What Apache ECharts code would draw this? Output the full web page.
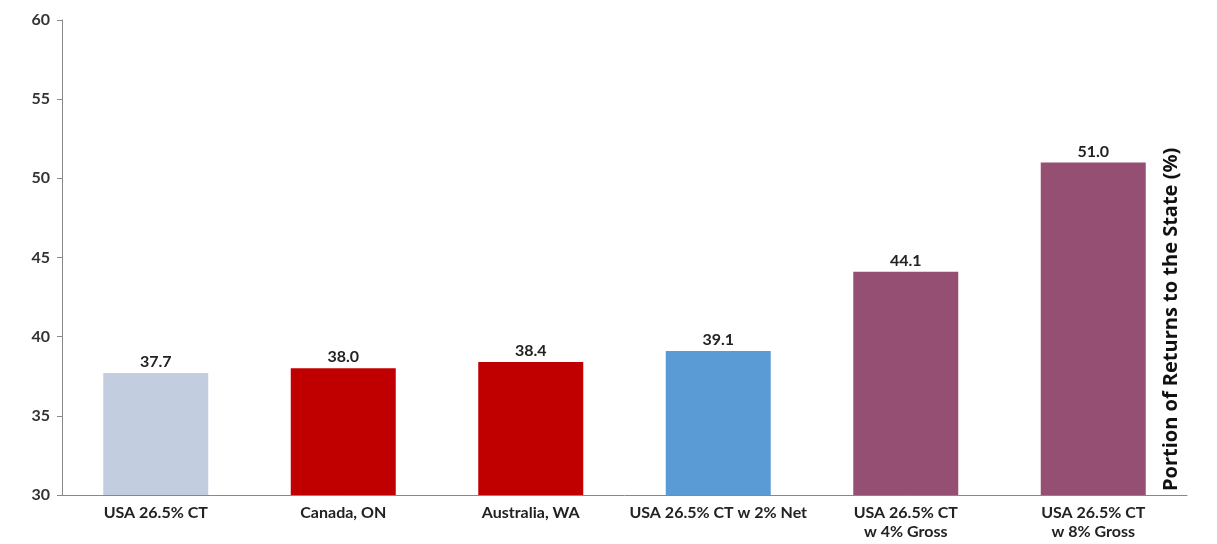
<!DOCTYPE html>
<html><head><meta charset="utf-8">
<script src="https://cdn.jsdelivr.net/npm/echarts@6/dist/echarts.min.js"></script>
<style>html,body{margin:0;padding:0;background:#fff}#c{width:1217px;height:544px}</style>
</head><body><div id="c"></div>
<script>
const categories = ['USA 26.5% CT', 'Canada, ON', 'Australia, WA', 'USA 26.5% CT w 2% Net', 'USA 26.5% CT\nw 4% Gross', 'USA 26.5% CT\nw 8% Gross'];
const values = [37.7, 38.0, 38.4, 39.1, 44.1, 51.0];
const barColors = ['#C2CEE0', '#C00000', '#C00000', '#5B9BD5', '#954F72', '#954F72'];
const yTitle = 'Portion of Returns to the State (%)';

const chart = echarts.init(document.getElementById('c'));
const FONT = 'Lato, "Open Sans", sans-serif';
chart.setOption({
  animation: false,
  grid: {left: 62, right: 30, top: 20, bottom: 49},
  xAxis: {
    type: 'category', data: categories,
    axisLine: {lineStyle: {color: '#888', width: 1}},
    axisTick: {show: false},
    axisLabel: {color: '#222', fontWeight: 'bold', fontSize: 16, fontFamily: FONT, margin: 8, lineHeight: 19, interval: 0}
  },
  yAxis: {
    type: 'value', min: 30, max: 60, interval: 5,
    splitLine: {show: false},
    axisLine: {show: true, lineStyle: {color: '#888', width: 1}},
    axisTick: {show: true, length: 5, lineStyle: {color: '#888'}},
    axisLabel: {color: '#333', fontWeight: 'bold', fontSize: 16, fontFamily: FONT, margin: 12}
  },
  series: [{
    type: 'bar', barWidth: '56%',
    data: values.map((v, i) => ({value: v, itemStyle: {color: barColors[i]}})),
    label: {show: true, position: 'top', formatter: p => p.value.toFixed(1), color: '#222', fontWeight: 'bold', fontSize: 16, fontFamily: FONT, distance: 3}
  }],
  graphic: [{
    type: 'text', left: 1161, bottom: 53,
    rotation: Math.PI / 2,
    style: {text: yTitle, fill: '#111', font: 'bold 20px "Open Sans", sans-serif'}
  }]
});
</script></body></html>
